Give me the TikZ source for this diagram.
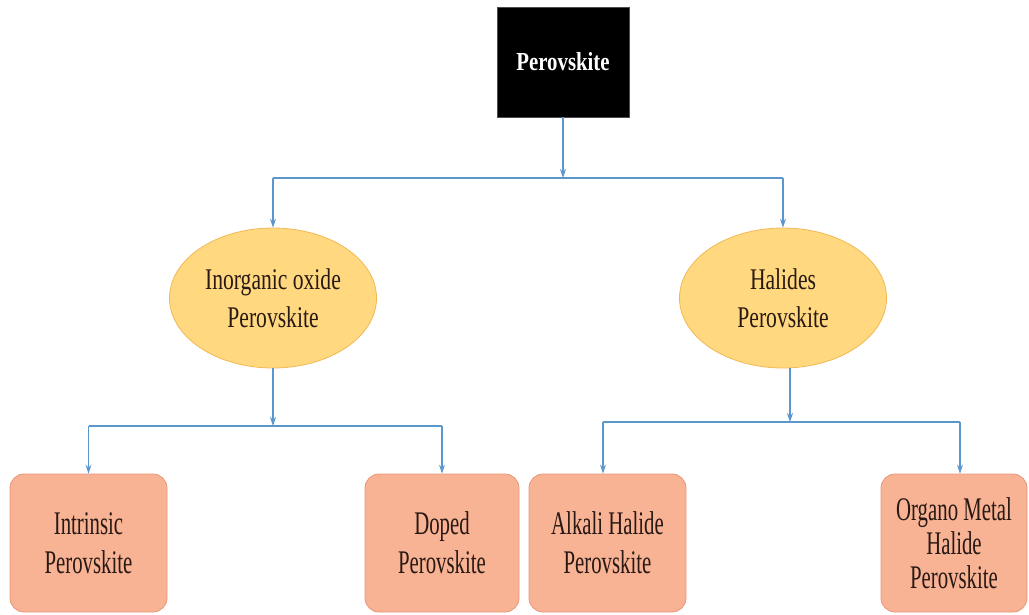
\documentclass[tikz,border=0pt]{standalone}
\usepackage{fontspec}
\setmainfont{Liberation Serif}
\newfontfamily\topfont[FakeStretch=0.8]{Liberation Serif}
\newfontfamily\ellfont[FakeStretch=0.72]{Liberation Serif}
\newfontfamily\leaffont[FakeStretch=0.63]{Liberation Serif}
\usetikzlibrary{shapes.geometric,arrows.meta}
\definecolor{conn}{RGB}{91,150,205}
\definecolor{ellfill}{RGB}{255,216,128}
\definecolor{elldraw}{RGB}{240,185,85}
\definecolor{boxfill}{RGB}{248,178,148}
\definecolor{boxdraw}{RGB}{232,150,120}
\definecolor{txt}{RGB}{40,25,20}
\tikzset{
  topbox/.style={fill=black,draw=black!70,minimum width=132pt,minimum height=110pt,inner sep=0pt,text=white,font=\topfont\fontsize{26}{30}\selectfont\bfseries},
  ellnode/.style={ellipse,fill=ellfill,draw=elldraw,line width=0.8pt,minimum width=207pt,minimum height=140pt,inner sep=0pt,align=center,text=txt,font=\ellfont\fontsize{30}{38}\selectfont},
  leafbox/.style={rectangle,rounded corners=14pt,fill=boxfill,draw=boxdraw,line width=0.8pt,minimum height=138pt,inner sep=0pt,align=center,text=txt,font=\leaffont\fontsize{33}{39}\selectfont},
  conline/.style={draw=conn,line width=1.3pt},
  conarrow/.style={draw=conn,line width=1.3pt,-{Stealth[length=9pt,width=6pt]}}
}
\begin{document}
\begin{tikzpicture}[x=1pt,y=-1pt]
\useasboundingbox (0,0) rectangle (1029,614);
\node[topbox] (top) at (563,62) {Perovskite};
\node[ellnode] (inorg) at (273,298) {Inorganic oxide\\Perovskite};
\node[ellnode] (hal) at (783,298) {Halides\\Perovskite};
\node[leafbox,minimum width=157pt] (intr) at (88.5,543) {Intrinsic\\Perovskite};
\node[leafbox,minimum width=154pt] (dop) at (442,543) {Doped\\Perovskite};
\node[leafbox,minimum width=157pt] (alk) at (607.5,543) {Alkali Halide\\Perovskite};
\node[leafbox,minimum width=146pt,font=\leaffont\fontsize{33}{34}\selectfont] (org) at (954,543) {Organo Metal\\Halide\\Perovskite};
% junction coordinates
\coordinate (j0) at (563,178);
\coordinate (j1) at (273,426);
\coordinate (j2) at (790,422);
% level 1
\draw[conarrow] (top.south) -- (j0);
\draw[conline] (inorg.north |- j0) -- (hal.north |- j0);
\draw[conarrow] (inorg.north |- j0) -- (inorg.north);
\draw[conarrow] (hal.north |- j0) -- (hal.north);
% level 2 left
\draw[conarrow] (inorg.south) -- (j1);
\draw[conline] (intr.north |- j1) -- (dop.north |- j1);
\draw[conarrow] (intr.north |- j1) -- (intr.north);
\draw[conarrow] (dop.north |- j1) -- (dop.north);
% level 2 right
\draw[conarrow] (hal.south -| j2) -- (j2);
\coordinate (alkx) at (603,422);
\coordinate (orgx) at (960,422);
\draw[conline] (alkx) -- (orgx);
\draw[conarrow] (alkx) -- (alkx |- alk.north);
\draw[conarrow] (orgx) -- (orgx |- org.north);
\end{tikzpicture}
\end{document}
